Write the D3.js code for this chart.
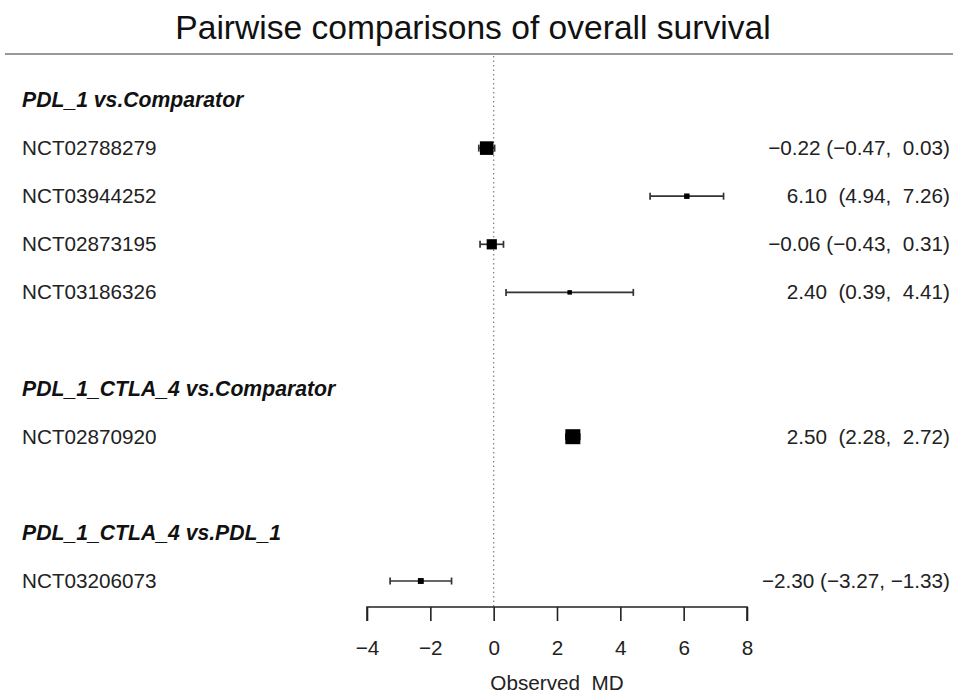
<!DOCTYPE html>
<html><head><meta charset="utf-8">
<script src="https://cdn.jsdelivr.net/npm/d3@7"></script>
<style>html,body{margin:0;padding:0;background:#fff;}svg{display:block;}</style>
</head><body>
<script>
const title = "Pairwise comparisons of overall survival";
const xLabel = "Observed  MD";
const groups = ["PDL_1 vs.Comparator", "PDL_1_CTLA_4 vs.Comparator", "PDL_1_CTLA_4 vs.PDL_1"];
const studies = ["NCT02788279", "NCT03944252", "NCT02873195", "NCT03186326", "NCT02870920", "NCT03206073"];
const studyGroup = [0, 0, 0, 0, 1, 2];
const md = [-0.22, 6.10, -0.06, 2.40, 2.50, -2.30];
const lower = [-0.47, 4.94, -0.43, 0.39, 2.28, -3.27];
const upper = [0.03, 7.26, 0.31, 4.41, 2.72, -1.33];
const xTicks = [-4, -2, 0, 2, 4, 6, 8];

const W = 953, H = 696;
const svg = d3.select("body").append("svg").attr("width", W).attr("height", H);
const font = "'Liberation Sans', Arial, Helvetica, sans-serif";

// build row layout: header, studies, blank between groups
const rows = [];
groups.forEach((g, gi) => {
  if (gi > 0) rows.push({type: "blank"});
  rows.push({type: "header", label: g});
  studies.forEach((s, i) => { if (studyGroup[i] === gi) rows.push({type: "study", i}); });
});
const y = d3.scaleLinear().domain([0, rows.length - 1]).range([100, 581]);
const x = d3.scaleLinear().domain([-4, 8]).range([367, 747]);

// precision-based square size
const prec = studies.map((s, i) => { const se = (upper[i] - lower[i]) / 3.92; return 1 / (se * se); });
const size = d3.scaleSqrt().domain(d3.extent(prec)).range([4.5, 15]);

const minus = v => v < 0 ? "\u2212" + Math.abs(v).toFixed(2) : v.toFixed(2);

// title
svg.append("text").attr("x", 473).attr("y", 39).attr("text-anchor", "middle")
  .attr("font-family", font).attr("font-size", 33.6).attr("fill", "#111").text(title);
svg.append("line").attr("x1", 5).attr("x2", W).attr("y1", 54).attr("y2", 54)
  .attr("stroke", "#999").attr("stroke-width", 2);

// reference line at 0
svg.append("line").attr("x1", x(0)).attr("x2", x(0)).attr("y1", 56).attr("y2", 607)
  .attr("stroke", "#888").attr("stroke-width", 1.3).attr("stroke-dasharray", "1.5,3");

// rows
rows.forEach((r, ri) => {
  const yy = y(ri);
  if (r.type === "header") {
    svg.append("text").attr("x", 22).attr("y", yy + 7).attr("font-family", font)
      .attr("font-size", 21.2).attr("font-weight", "bold").attr("font-style", "italic")
      .attr("fill", "#111").text(r.label);
  } else if (r.type === "study") {
    const i = r.i;
    svg.append("text").attr("x", 22).attr("y", yy + 7).attr("font-family", font)
      .attr("font-size", 20.7).attr("fill", "#222").text(studies[i]);
    const est = minus(md[i]);
    const lb = (lower[i] >= 0 ? " " : "") + "(" + minus(lower[i]) + ",";
    const ub = (upper[i] >= 0 ? "  " : " ") + minus(upper[i]) + ")";
    svg.append("text").attr("x", 950).attr("y", yy + 7).attr("text-anchor", "end")
      .attr("font-family", font).attr("font-size", 20.7).attr("fill", "#222")
      .attr("xml:space", "preserve").style("white-space", "pre")
      .text(est + " " + lb + ub);
    const g = svg.append("g").attr("stroke", "#333").attr("stroke-width", 1.7);
    g.append("line").attr("x1", x(lower[i])).attr("x2", x(upper[i])).attr("y1", yy).attr("y2", yy);
    g.append("line").attr("x1", x(lower[i])).attr("x2", x(lower[i])).attr("y1", yy - 3.5).attr("y2", yy + 3.5);
    g.append("line").attr("x1", x(upper[i])).attr("x2", x(upper[i])).attr("y1", yy - 3.5).attr("y2", yy + 3.5);
    const s = size(prec[i]);
    svg.append("rect").attr("x", x(md[i]) - s / 2).attr("y", yy - s / 2)
      .attr("width", s).attr("height", s).attr("fill", "#000");
  }
});

// axis
const axis = d3.axisBottom(x).tickValues(xTicks).tickSize(14).tickPadding(19)
  .tickFormat(d => d < 0 ? "\u2212" + Math.abs(d) : d);
const ax = svg.append("g").attr("transform", "translate(0,607)").call(axis);
ax.select(".domain").attr("stroke", "#222").attr("stroke-width", 1.6).attr("d", `M${x(-4)},14V0H${x(8)}V14`);
ax.selectAll(".tick line").attr("stroke", "#222").attr("stroke-width", 1.6);
ax.selectAll(".tick text").attr("font-family", font).attr("font-size", 20.7).attr("fill", "#222");
svg.append("text").attr("x", (x(-4) + x(8)) / 2).attr("y", 690).attr("text-anchor", "middle")
  .attr("font-family", font).attr("font-size", 20.7).attr("fill", "#222")
  .attr("xml:space", "preserve").style("white-space", "pre").text(xLabel);
</script>
</body></html>
